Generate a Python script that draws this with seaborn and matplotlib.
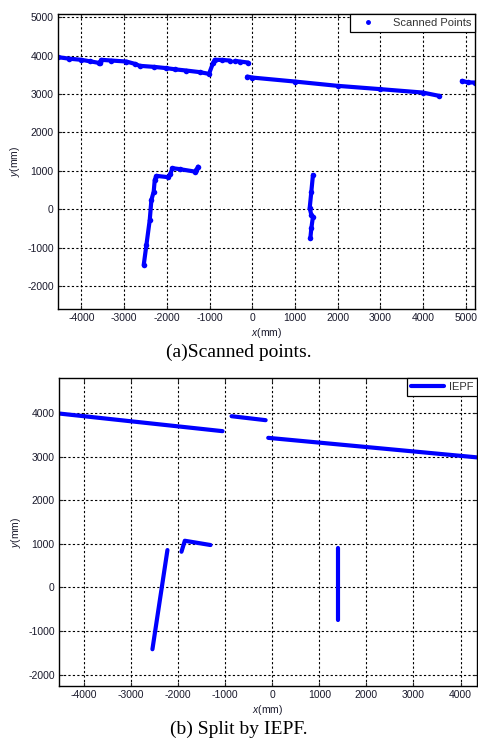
import matplotlib
matplotlib.use("Agg")
import matplotlib.pyplot as plt
from matplotlib.lines import Line2D
import seaborn as sns
import pandas as pd

# ---------------- data ----------------
# (a) scanned points, grouped by contiguous runs
scan_wall1_x = [-4550, -4300, -4000, -3800, -3600, -3571, -3532, -3300, -2946, -2752, -2635,
                -2300, -2009, -1800, -1541, -1230, -1012, -918, -878, -700, -527]
scan_wall1_y = [3958, 3920, 3888, 3850, 3810, 3818, 3888, 3870, 3844, 3784, 3732,
                3705, 3672, 3640, 3609, 3568, 3523, 3802, 3888, 3885, 3870]
scan_wall2_x = [-400, -290, -98]
scan_wall2_y = [3862, 3844, 3818]
scan_wall3_x = [-117, 0, 1000, 2000, 3000, 4000, 4375]
scan_wall3_y = [3453, 3427, 3323, 3211, 3125, 3036, 2951]
scan_wall4_x = [4913, 5060, 5211]
scan_wall4_y = [3341, 3300, 3297]
scan_left_x = [-2541, -2478, -2400, -2361, -2307, -2283, -2244, -1972, -1916, -1869,
               -1698, -1347, -1307, -1269]
scan_left_y = [-1451, -930, -279, 242, 458, 763, 867, 833, 919, 1068,
               1042, 979, 1023, 1109]
scan_right_x = [1424, 1386, 1347, 1386, 1424, 1386, 1363]
scan_right_y = [893, 458, 26, -148, -193, -495, -755]

# (b) IEPF line segments
iepf_x = [[-4532, -1055], [-864, -140], [-85, 4362], [-2545, -2226],
          [-1928, -1857, -1311], [1391, 1391]]
iepf_y = [[3986, 3581], [3924, 3833], [3428, 2979], [-1418, 856],
          [817, 1069, 971], [895, -747]]

xticks_a = [-4000, -3000, -2000, -1000, 0, 1000, 2000, 3000, 4000, 5000]
yticks_a = [-2000, -1000, 0, 1000, 2000, 3000, 4000, 5000]
xticks_b = [-4000, -3000, -2000, -1000, 0, 1000, 2000, 3000, 4000]
yticks_b = [-2000, -1000, 0, 1000, 2000, 3000, 4000]

# ---------------- build tables ----------------
scan_runs = [(scan_wall1_x, scan_wall1_y), (scan_wall2_x, scan_wall2_y),
             (scan_wall3_x, scan_wall3_y), (scan_wall4_x, scan_wall4_y),
             (scan_left_x, scan_left_y), (scan_right_x, scan_right_y)]
rows = []
for i, (xs, ys) in enumerate(scan_runs):
    for x, y in zip(xs, ys):
        rows.append({"x": x, "y": y, "run": i})
df_scan = pd.DataFrame(rows)

rows = []
for i, (xs, ys) in enumerate(zip(iepf_x, iepf_y)):
    for x, y in zip(xs, ys):
        rows.append({"x": x, "y": y, "seg": i})
df_iepf = pd.DataFrame(rows)

# ---------------- style ----------------
sns.set_theme(style="white")
plt.rcParams["font.family"] = ["Liberation Sans", "DejaVu Sans"]
plt.rcParams["mathtext.fontset"] = "custom"
plt.rcParams["mathtext.it"] = "Liberation Sans:italic"
plt.rcParams["mathtext.rm"] = "Liberation Sans"

TICK_COLOR = "#1a1a2c"
BLUE = "#0000ff"

fig = plt.figure(figsize=(4.78, 7.40), dpi=100)
ax_a = fig.add_axes([0.1213, 0.5824, 0.8724, 0.3986])
ax_b = fig.add_axes([0.1234, 0.0730, 0.8745, 0.4162])


def style_axes(ax, xticks, yticks, xlim, ylim):
    ax.set_xlim(*xlim)
    ax.set_ylim(*ylim)
    ax.set_xticks(xticks)
    ax.set_yticks(yticks)
    ax.set_xticklabels([str(t) for t in xticks])
    ax.set_yticklabels([str(t) for t in yticks])
    ax.grid(True, color="black", linestyle=(0, (2, 2)), linewidth=0.8)
    ax.set_axisbelow(True)
    for s in ax.spines.values():
        s.set_visible(True)
        s.set_color("black")
        s.set_linewidth(1.0)
    ax.tick_params(axis="both", direction="in", length=3, width=0.8,
                   labelsize=7.5, labelcolor=TICK_COLOR, pad=3,
                   bottom=True, left=True, top=True, right=True,
                   labeltop=False, labelright=False)
    ax.set_xlabel(r"$\it{x}$(mm)", fontsize=7.5, color=TICK_COLOR, labelpad=2)
    ax.set_ylabel(r"$\it{y}$(mm)", fontsize=7.5, color=TICK_COLOR, labelpad=4)


# ---------------- panel (a) ----------------
sns.lineplot(data=df_scan, x="x", y="y", units="run", estimator=None, sort=False,
             color=BLUE, linewidth=3.0, marker="o", markersize=4,
             markeredgewidth=0, ax=ax_a, legend=False)
style_axes(ax_a, xticks_a, yticks_a, (-4550, 5220), (-2600, 5080))
h_a = Line2D([], [], color=BLUE, marker=".", linestyle="none", markersize=5)
leg = ax_a.legend([h_a], ["Scanned Points"], loc="upper right", fontsize=8,
                  frameon=True, fancybox=False, framealpha=1, edgecolor="black",
                  borderaxespad=0, handlelength=2.6, handletextpad=0.9,
                  borderpad=0.35, labelcolor="#333333")
leg.get_frame().set_linewidth(0.9)

# ---------------- panel (b) ----------------
sns.lineplot(data=df_iepf, x="x", y="y", units="seg", estimator=None, sort=False,
             color=BLUE, linewidth=3.0, ax=ax_b, legend=False)
style_axes(ax_b, xticks_b, yticks_b, (-4530, 4350), (-2260, 4800))
h_b = Line2D([], [], color=BLUE, linewidth=3.0)
leg = ax_b.legend([h_b], ["IEPF"], loc="upper right", fontsize=8,
                  frameon=True, fancybox=False, framealpha=1, edgecolor="black",
                  borderaxespad=0, handlelength=3.0, handletextpad=0.4,
                  borderpad=0.35, labelcolor="#333333")
leg.get_frame().set_linewidth(0.9)

# ---------------- captions ----------------
fig.text(0.5, 1 - 352 / 740, "(a)Scanned points.", ha="center", va="center",
         fontsize=14, family=["Liberation Serif", "DejaVu Serif"], color="black")
fig.text(0.5, 1 - 729 / 740, "(b) Split by IEPF.", ha="center", va="center",
         fontsize=14, family=["Liberation Serif", "DejaVu Serif"], color="black")

fig.savefig("out.png", dpi=100, facecolor="white")
